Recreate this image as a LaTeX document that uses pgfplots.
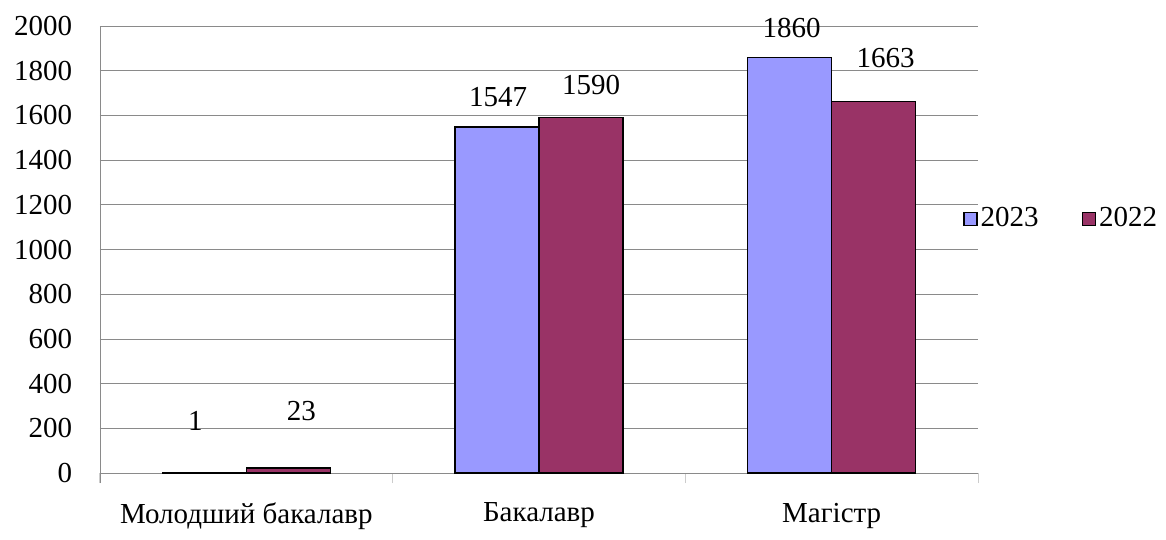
\documentclass[border=0pt]{standalone}
\usepackage{fontspec}
\newfontfamily\tnr{Liberation Serif}
\usepackage{pgfplots}
\pgfplotsset{compat=1.18}
\definecolor{cA}{HTML}{9999FF}
\definecolor{cB}{HTML}{993366}
\definecolor{gridc}{HTML}{8A8A8A}
\newcommand{\f}{\tnr\fontsize{29}{34}\selectfont}
\begin{document}
\f
\begin{tikzpicture}[font=\f]
\begin{axis}[name=ax, scale only axis, width=878pt, height=447pt,
  ybar=0pt, bar width=84pt,
  xmin=-0.5, xmax=2.5, ymin=0, ymax=2000,
  xtick={0,1,2}, xticklabels={Молодший бакалавр, Бакалавр, Магістр},
  minor xtick={-0.5,0.5,1.5,2.5},
  ytick={0,200,...,2000},
  ymajorgrids, grid style={gridc, line width=0.8pt},
  axis x line*=bottom, axis y line*=left,
  axis line style={gridc, line width=0.8pt, -},
  y axis line style={shorten <=-10pt},
  tick align=outside, major tick length=0pt, minor tick length=10pt,
  minor tick style={gray!40, line width=1pt},
  /pgf/number format/assume math mode=true,
  /pgf/number format/1000 sep={},
  tick label style={font=\f},
  yticklabel style={xshift=-18pt},
  xticklabel style={yshift=-20pt},
  nodes near coords,
  nodes near coords style={anchor=south, inner sep=0pt, font=\f, /pgf/number format/assume math mode=true, /pgf/number format/1000 sep={}},
  legend image code/.code={\draw[#1, line width=1.5pt] (0pt,-6.5pt) rectangle (13pt,6.5pt);},
  legend style={at={(rel axis cs:0.9795,0.568)}, anchor=west, draw=none, fill=none,
    /tikz/every even column/.append style={column sep=40pt},
    nodes={inner sep=3pt, font=\f}},
  legend columns=2,
  clip=false
]
\addplot[fill=cA, draw=black, line width=1.5pt,
  visualization depends on={value \thisrow{dx}\as\dx},
  visualization depends on={value \thisrow{dy}\as\dy},
  every node near coord/.append style={xshift=\dx pt, yshift=\dy pt}]
  table[x=x, y=y] {
x y dx dy
0 1 -9 42
1 1547 1 20
2 1860 2 19
};
\addlegendentry{2023}
\addplot[fill=cB, draw=black, line width=1.5pt,
  visualization depends on={value \thisrow{dx}\as\dx},
  visualization depends on={value \thisrow{dy}\as\dy},
  every node near coord/.append style={xshift=\dx pt, yshift=\dy pt}]
  table[x=x, y=y] {
x y dx dy
0 23 13 46
1 1590 10 22
2 1663 12 33
};
\addlegendentry{2022}
\end{axis}
\path ([shift={(-100pt,-54pt)}]ax.south west) rectangle ([shift={(188pt,26pt)}]ax.north east);
\end{tikzpicture}
\end{document}
